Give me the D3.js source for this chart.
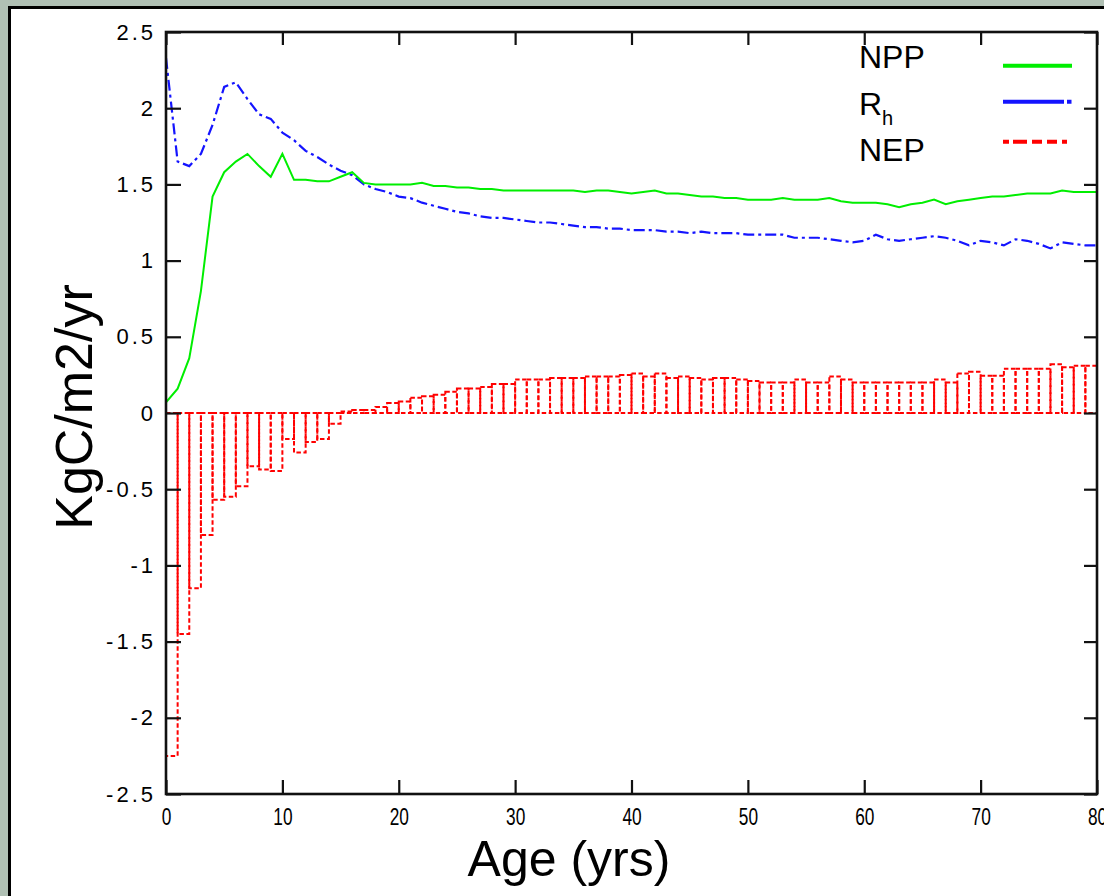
<!DOCTYPE html>
<html>
<head>
<meta charset="utf-8">
<script src="https://cdn.jsdelivr.net/npm/d3@7"></script>
<style>
  html, body { margin: 0; padding: 0; background: #b0c0b4; }
  svg { display: block; }
  text { font-family: "Liberation Sans", Arial, Helvetica, sans-serif; fill: #000; }
</style>
</head>
<body>
<svg id="chart" width="1104" height="896"></svg>
<script>
// Stand age in years (NPP and Rh sampled yearly)
const ages = d3.range(0, 81);

// Net primary production, KgC/m2/yr
const npp = [
  0.07, 0.16, 0.36, 0.80, 1.42, 1.58, 1.65, 1.70, 1.62, 1.55,
  1.70, 1.53, 1.53, 1.52, 1.52, 1.55, 1.58, 1.51, 1.50, 1.50,
  1.50, 1.50, 1.51, 1.49, 1.49, 1.48, 1.48, 1.47, 1.47, 1.46,
  1.46, 1.46, 1.46, 1.46, 1.46, 1.46, 1.45, 1.46, 1.46, 1.45,
  1.44, 1.45, 1.46, 1.44, 1.44, 1.43, 1.42, 1.42, 1.41, 1.41,
  1.40, 1.40, 1.40, 1.41, 1.40, 1.40, 1.40, 1.41, 1.39, 1.38,
  1.38, 1.38, 1.37, 1.35, 1.37, 1.38, 1.40, 1.37, 1.39, 1.40,
  1.41, 1.42, 1.42, 1.43, 1.44, 1.44, 1.44, 1.46, 1.45, 1.45,
  1.45
];

// Heterotrophic respiration, KgC/m2/yr
const rh = [
  2.33, 1.65, 1.62, 1.70, 1.89, 2.14, 2.17, 2.06, 1.96, 1.93,
  1.84, 1.79, 1.72, 1.68, 1.63, 1.59, 1.56, 1.50, 1.47, 1.45,
  1.42, 1.41, 1.38, 1.36, 1.34, 1.32, 1.31, 1.29, 1.28, 1.28,
  1.27, 1.26, 1.25, 1.25, 1.24, 1.23, 1.22, 1.22, 1.21, 1.21,
  1.20, 1.20, 1.20, 1.19, 1.19, 1.18, 1.19, 1.18, 1.18, 1.18,
  1.17, 1.17, 1.17, 1.17, 1.15, 1.15, 1.15, 1.14, 1.13, 1.12,
  1.13, 1.17, 1.14, 1.13, 1.14, 1.15, 1.16, 1.15, 1.13, 1.10,
  1.13, 1.12, 1.10, 1.14, 1.13, 1.11, 1.08, 1.12, 1.11, 1.10,
  1.10
];

// Net ecosystem production per year of age (one box per year)
const nepYears = d3.range(0, 80);
const nep = [
  -2.25, -1.45, -1.15, -0.80, -0.57, -0.55, -0.48, -0.35, -0.37, -0.38,
  -0.17, -0.26, -0.19, -0.17, -0.07, 0.01, 0.02, 0.02, 0.04, 0.065,
  0.075, 0.10, 0.11, 0.12, 0.14, 0.16, 0.16, 0.17, 0.19, 0.19,
  0.22, 0.22, 0.22, 0.23, 0.23, 0.23, 0.24, 0.24, 0.24, 0.25,
  0.26, 0.24, 0.26, 0.23, 0.24, 0.23, 0.22, 0.23, 0.23, 0.22,
  0.21, 0.20, 0.20, 0.20, 0.22, 0.20, 0.20, 0.24, 0.22, 0.20,
  0.20, 0.20, 0.20, 0.20, 0.20, 0.20, 0.22, 0.20, 0.26, 0.27,
  0.245, 0.245, 0.29, 0.29, 0.29, 0.29, 0.32, 0.30, 0.31, 0.31
];

const xTicks = [0, 10, 20, 30, 40, 50, 60, 70, 80];
const yTicks = [2.5, 2, 1.5, 1, 0.5, 0, -0.5, -1, -1.5, -2, -2.5];
const yTickLabels = ["2.5", "2", "1.5", "1", "0.5", "0", "-0.5", "-1", "-1.5", "-2", "-2.5"];

const legendNames = ["NPP", "R", "NEP"];
const legendSubs = ["", "h", ""];
const seriesColors = ["#00ee00", "#1414ff", "#ff0000"];

const xTitle = "Age (yrs)";
const yTitle = "KgC/m2/yr";

const svg = d3.select("#chart");

// White panel with black border
svg.append("rect")
  .attr("x", 9.5).attr("y", 7.5)
  .attr("width", 1200).attr("height", 1000)
  .attr("fill", "#fff").attr("stroke", "#000").attr("stroke-width", 3);

const plot = { left: 166, right: 1097, top: 32, bottom: 794 };

const x = d3.scaleLinear().domain([0, 80]).range([plot.left, plot.right]);
const y = d3.scaleLinear().domain([-2.5, 2.5]).range([plot.bottom, plot.top]);

svg.append("defs").append("clipPath").attr("id", "plotClip")
  .append("rect")
  .attr("x", plot.left).attr("y", plot.top)
  .attr("width", plot.right - plot.left).attr("height", plot.bottom - plot.top);

const g = svg.append("g").attr("clip-path", "url(#plotClip)");

// NEP as dashed outlined boxes, one per year
g.selectAll("rect.nep")
  .data(nepYears)
  .join("rect")
  .attr("class", "nep")
  .attr("x", d => x(d))
  .attr("width", d => x(d + 1) - x(d))
  .attr("y", (d, i) => Math.min(y(nep[i]), y(0)))
  .attr("height", (d, i) => Math.abs(y(nep[i]) - y(0)))
  .attr("fill", "none")
  .attr("stroke", seriesColors[2])
  .attr("stroke-width", 2)
  .attr("stroke-dasharray", "4.5,2.5");

const line = d3.line().x((d, i) => x(ages[i])).y(d => y(d));

g.append("path")
  .datum(rh)
  .attr("d", line)
  .attr("fill", "none")
  .attr("stroke", seriesColors[1])
  .attr("stroke-width", 2.2)
  .attr("stroke-dasharray", "11,4,3,4");

g.append("path")
  .datum(npp)
  .attr("d", line)
  .attr("fill", "none")
  .attr("stroke", seriesColors[0])
  .attr("stroke-width", 2);

// Axes with inward ticks on all four sides
const axisColor = "#111";

const xAxis = svg.append("g")
  .attr("transform", `translate(0,${plot.bottom})`)
  .call(d3.axisBottom(x).tickValues(xTicks).tickSizeInner(-14).tickSizeOuter(0).tickPadding(14)
    .tickFormat(d3.format("d")));
xAxis.selectAll("text")
  .attr("font-size", 24)
  .attr("transform", "scale(0.72,1)")
  .style("font-family", "'Liberation Sans', Arial, sans-serif");

svg.append("g")
  .attr("transform", `translate(0,${plot.top})`)
  .call(d3.axisTop(x).tickValues(xTicks).tickSizeInner(-13).tickSizeOuter(0).tickFormat(""));

const yAxis = svg.append("g")
  .attr("transform", `translate(${plot.left},0)`)
  .call(d3.axisLeft(y).tickValues(yTicks).tickSizeInner(-15).tickSizeOuter(0).tickPadding(10)
    .tickFormat((d, i) => yTickLabels[i]));
yAxis.selectAll("text")
  .attr("font-size", 22)
  .attr("letter-spacing", 3)
  .style("font-family", "'Liberation Sans', Arial, sans-serif");

svg.append("g")
  .attr("transform", `translate(${plot.right},0)`)
  .call(d3.axisRight(y).tickValues(yTicks).tickSizeInner(-13).tickSizeOuter(0).tickFormat(""));

svg.selectAll(".domain").remove();
svg.selectAll(".tick line").attr("stroke", axisColor).attr("stroke-width", 2.2);

svg.append("rect")
  .attr("x", plot.left).attr("y", plot.top)
  .attr("width", plot.right - plot.left).attr("height", plot.bottom - plot.top)
  .attr("fill", "none").attr("stroke", axisColor).attr("stroke-width", 2.6);

// Axis titles
svg.append("text")
  .attr("x", 569).attr("y", 876)
  .attr("text-anchor", "middle")
  .attr("font-size", 50)
  .text(xTitle);

svg.append("text")
  .attr("transform", "translate(92,407) rotate(-90)")
  .attr("text-anchor", "middle")
  .attr("font-size", 52)
  .text(yTitle);

// Legend
const legendRows = [68, 115, 161];
const legendLineY = [65.7, 101.7, 141.7];
const legendDash = [null, "61,3,4.5,20", "6,4,14,5,10,5,10,5,5,8"];

legendNames.forEach((name, i) => {
  const t = svg.append("text")
    .attr("x", 859).attr("y", legendRows[i])
    .attr("font-size", 32);
  t.append("tspan").text(name);
  if (legendSubs[i]) {
    t.append("tspan").attr("font-size", 20).attr("dy", 10).text(legendSubs[i]);
  }
  svg.append("line")
    .attr("x1", 1003).attr("x2", 1072)
    .attr("y1", legendLineY[i]).attr("y2", legendLineY[i])
    .attr("stroke", seriesColors[i])
    .attr("stroke-width", 4)
    .attr("stroke-dasharray", legendDash[i]);
});
</script>
</body>
</html>
